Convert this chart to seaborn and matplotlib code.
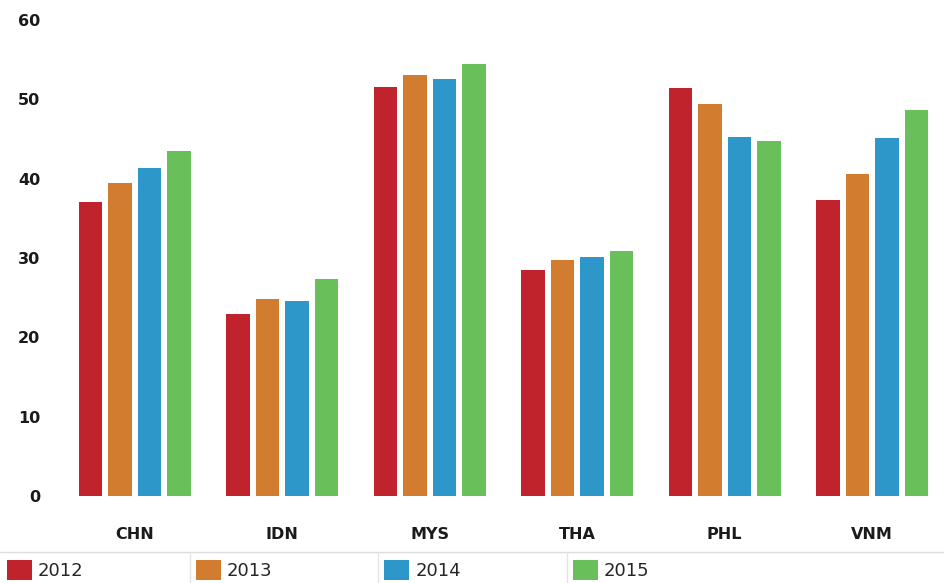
import pandas as pd
import numpy as np
import matplotlib.pyplot as plt
import seaborn as sns
from matplotlib.lines import Line2D

countries = ['CHN', 'IDN', 'MYS', 'THA', 'PHL', 'VNM']
years = ['2012', '2013', '2014', '2015']
v2012 = [37.0, 22.9, 51.6, 28.5, 51.4, 37.3]
v2013 = [39.4, 24.8, 53.1, 29.7, 49.4, 40.6]
v2014 = [41.3, 24.6, 52.6, 30.1, 45.3, 45.1]
v2015 = [43.5, 27.3, 54.5, 30.9, 44.8, 48.6]
colors = ['#c0232c', '#d17c2e', '#2e97c9', '#69bf5a']

df = pd.DataFrame({'country': countries, '2012': v2012, '2013': v2013,
                   '2014': v2014, '2015': v2015})
df = df.melt(id_vars='country', var_name='year', value_name='value')

sns.set_style('white')
plt.rcParams['font.family'] = ['DejaVu Sans']

fig = plt.figure(figsize=(9.44, 5.83), dpi=100)
ax = fig.add_axes([61/944, 87/583, 885/944, 476/583])

sns.barplot(data=df, x='country', y='value', hue='year', hue_order=years,
            order=countries, palette=colors, saturation=1, width=0.8, gap=0.2,
            linewidth=0, errorbar=None, ax=ax)

ax.set_xlim(-0.5, 5.5)
ax.set_ylim(0, 60)
ax.set_yticks(range(0, 61, 10))
ax.set_xlabel('')
ax.set_ylabel('')
for s in ax.spines.values():
    s.set_visible(False)
ax.tick_params(axis='y', length=0, pad=15, labelsize=11.5, labelcolor='#1a1a1a')
ax.tick_params(axis='x', length=0, pad=22, labelsize=11.5, labelcolor='#1a1a1a')
for lab in ax.get_xticklabels() + ax.get_yticklabels():
    lab.set_fontweight('bold')

handles, labels = ax.get_legend_handles_labels()
ax.get_legend().remove()
fig.legend(handles, labels, loc='center left', bbox_to_anchor=(7/944, 13/583),
           ncol=4, frameon=False, fontsize=13, handlelength=1.39, handleheight=1.33,
           handletextpad=0.33, columnspacing=6.2, borderpad=0, borderaxespad=0)

fig.add_artist(Line2D([0, 1], [31/583, 31/583], color='#dcdcdc', lw=1))
for xs in [190, 378, 567]:
    fig.add_artist(Line2D([xs/944, xs/944], [0, 31/583], color='#e4e4e4', lw=1))

fig.savefig('out.png', dpi=100)
